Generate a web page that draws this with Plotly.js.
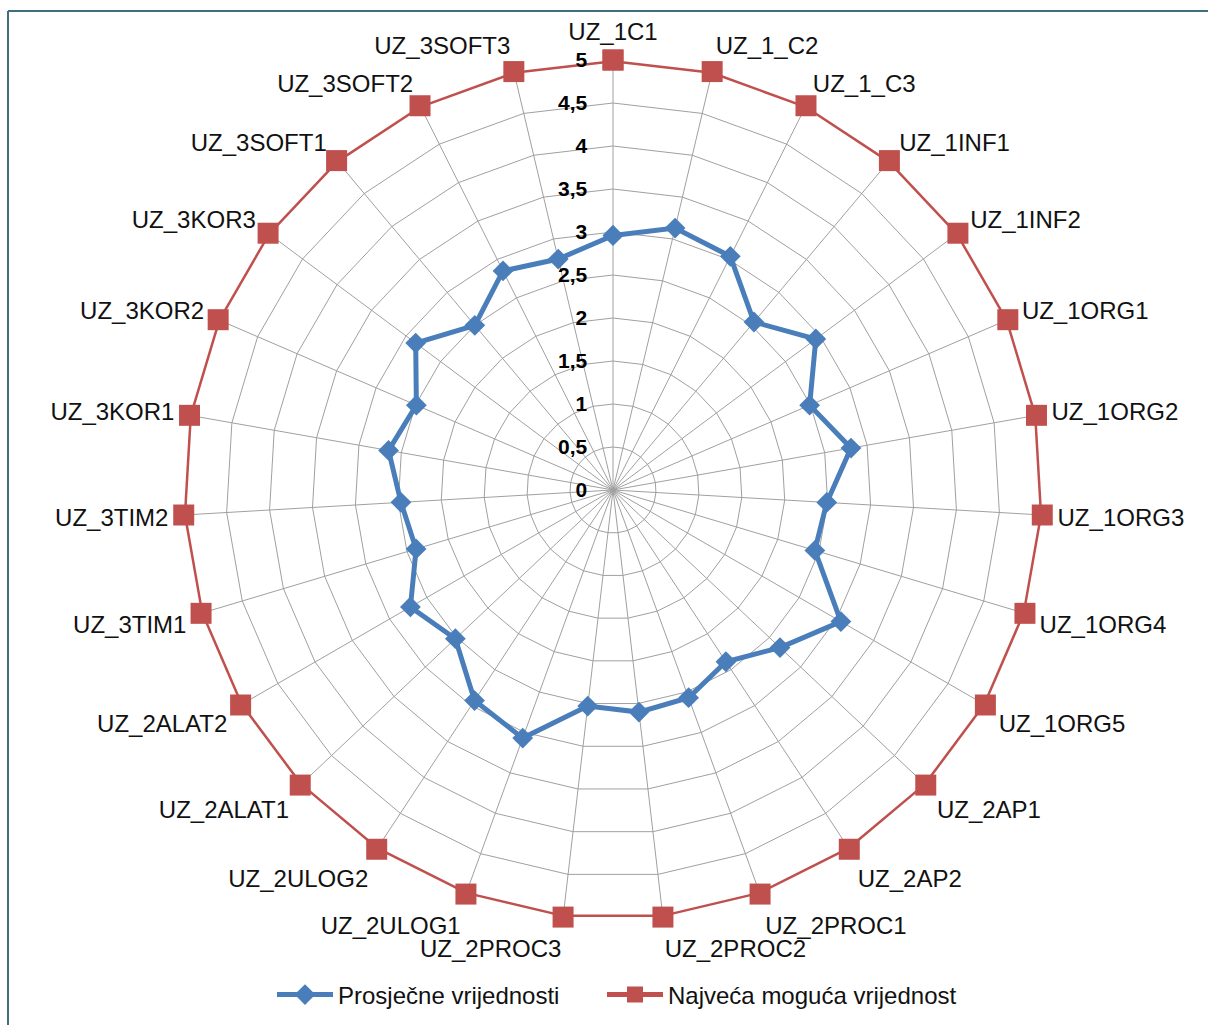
<!DOCTYPE html>
<html>
<head>
<meta charset="utf-8">
<script src="https://cdn.plot.ly/plotly-3.0.1.min.js"></script>
<style>
html,body{margin:0;padding:0;background:#fff;}
#chart{width:1208px;height:1025px;}
</style>
</head>
<body>
<div id="chart"></div>
<script>
const categories = ["UZ_1C1","UZ_1_C2","UZ_1_C3","UZ_1INF1","UZ_1INF2","UZ_1ORG1","UZ_1ORG2","UZ_1ORG3","UZ_1ORG4","UZ_1ORG5",
  "UZ_2AP1","UZ_2AP2","UZ_2PROC1","UZ_2PROC2","UZ_2PROC3","UZ_2ULOG1","UZ_2ULOG2","UZ_2ALAT1","UZ_2ALAT2",
  "UZ_3TIM1","UZ_3TIM2","UZ_3KOR1","UZ_3KOR2","UZ_3KOR3","UZ_3SOFT1","UZ_3SOFT2","UZ_3SOFT3"];
const averageValues = [2.96,3.13,3.04,2.55,2.94,2.49,2.81,2.49,2.45,3.06,
  2.67,2.39,2.57,2.60,2.53,3.07,2.93,2.52,2.72,
  2.39,2.47,2.65,2.49,2.86,2.50,2.85,2.76];
const maxValues = [5,5,5,5,5,5,5,5,5,5,5,5,5,5,5,5,5,5,5,5,5,5,5,5,5,5,5];
const radialTicks = [0,0.5,1,1.5,2,2.5,3,3.5,4,4.5,5];
const seriesNames = ["Prosječne vrijednosti","Najveća moguća vrijednost"];

function closeLoop(arr){ return arr.concat([arr[0]]); }

const W = 1208, H = 1025;
const cx = 613, cy = 490, R = 430;

const traces = [
  {
    type: 'scatterpolar', mode: 'lines+markers', name: seriesNames[0], legend: 'legend',
    theta: closeLoop(categories), r: closeLoop(averageValues),
    line: {color: '#4A7EBB', width: 5},
    marker: {symbol: 'diamond', size: 16, color: '#4A7EBB'},
    cliponaxis: false
  },
  {
    type: 'scatterpolar', mode: 'lines+markers', name: seriesNames[1], legend: 'legend2',
    theta: closeLoop(categories), r: closeLoop(maxValues),
    line: {color: '#C0504D', width: 5},
    marker: {symbol: 'square', size: 21, color: '#C0504D'},
    cliponaxis: false
  }
];

const legendCommon = {
  orientation: 'h', yanchor: 'middle', y: 1 - 995/H, xanchor: 'left',
  font: {size: 24, color: '#111111'}, itemwidth: 56, bgcolor: 'rgba(0,0,0,0)'
};

const layout = {
  width: W, height: H,
  margin: {l: 0, r: 0, t: 0, b: 0},
  paper_bgcolor: '#ffffff',
  separators: ', ',
  font: {family: 'Liberation Sans, Arial, sans-serif', color: '#111111'},
  showlegend: true,
  legend: Object.assign({}, legendCommon, {x: 272/W}),
  legend2: Object.assign({}, legendCommon, {x: 602/W}),
  polar: {
    domain: {x: [(cx - R)/W, (cx + R)/W], y: [1 - (cy + R)/H, 1 - (cy - R)/H]},
    gridshape: 'linear',
    bgcolor: 'rgba(0,0,0,0)',
    angularaxis: {
      type: 'category', categoryarray: categories, categoryorder: 'array',
      rotation: 90, direction: 'clockwise',
      showline: false, ticks: 'outside', ticklen: 10, tickcolor: 'rgba(0,0,0,0)',
      gridcolor: '#A0A0A0', gridwidth: 1,
      tickfont: {size: 24, color: '#111111'}
    },
    radialaxis: {
      range: [0, 5], tickvals: radialTicks, angle: 90, tickangle: 90,
      side: 'counterclockwise', showline: false,
      ticks: 'outside', ticklen: 18, tickcolor: 'rgba(0,0,0,0)',
      gridcolor: '#A0A0A0', gridwidth: 1,
      tickfont: {size: 21, color: '#000000', weight: 'bold'}
    }
  },
  shapes: [
    {type: 'line', xref: 'paper', yref: 'paper', x0: 8/W, x1: 1.01, y0: 1 - 11/H, y1: 1 - 11/H, line: {color: '#3E6F7D', width: 2}},
    {type: 'line', xref: 'paper', yref: 'paper', x0: 8/W, x1: 8/W, y0: 1 - 11/H, y1: -0.01, line: {color: '#3E6F7D', width: 2}}
  ]
};

Plotly.newPlot('chart', traces, layout, {displayModeBar: false, staticPlot: true});
</script>
</body>
</html>
